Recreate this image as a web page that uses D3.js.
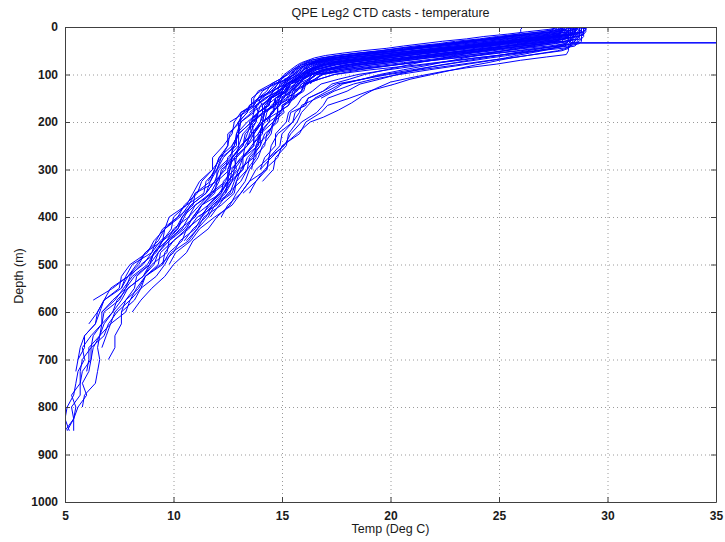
<!DOCTYPE html>
<html>
<head>
<meta charset="utf-8">
<script src="https://d3js.org/d3.v7.min.js"></script>
<style>
  body { margin: 0; background: #fff; }
  svg { display: block; font-family: "Liberation Sans", Arial, Helvetica, sans-serif; }
  .grid line { stroke: #9a9a9a; stroke-dasharray: 1,3; }
  .grid .domain { display: none; }
  .axis text { font-size: 12px; font-weight: bold; fill: #1a1a1a; }
  .axis line, .axis path { stroke: #404040; }
  .cast { fill: none; stroke: #0000ff; stroke-width: 1; }
</style>
</head>
<body>
<svg id="svg" width="725" height="542"></svg>
<script>
// tick labels
var xTicks = [5, 10, 15, 20, 25, 30, 35];
var yTicks = [0, 100, 200, 300, 400, 500, 600, 700, 800, 900, 1000];

// depth bins (m) shared by the casts, temperatures (deg C)
var depthLevels = [0, 5, 10, 15, 20, 25, 30, 35, 40, 45, 50, 55, 60, 65, 70, 75, 80, 90,
  100, 110, 120, 135, 150, 165, 180, 200, 225, 250, 275, 300, 325, 350, 375, 400, 425,
  450, 475, 500, 525, 550, 575, 600, 625, 650, 675, 700, 725, 750, 775, 800, 825, 850];

var castA1 = [28.5,28.4,28.4,28.3,28.1,27.2,26.1,25.2,24.1,23.2,22.3,21.2,20.3,19.4,18.4,17.6,17.0,16.4,16.0,15.7,15.2,15.0,14.9,14.5,14.3,14.2,13.9,13.4,12.8,12.9,12.5,12.2,11.3,10.9,10.5,9.8,9.3,9.1,8.6,7.9,7.6,7.2,6.7,6.6,6.3,6.2,5.8,5.7,5.7,5.3,5.4,5.1];
var castA2 = [28.9,28.8,28.8,28.2,27.3,26.2,25.4,24.3,23.4,22.3,21.2,20.1,19.0,18.1,17.2,16.6,16.2,15.9,15.6,15.1,15.2,14.5,13.9,14.1,13.6,13.1,13.0,12.8,12.3,12.0,12.0,11.0,10.9,10.2,9.6,9.5,9.2,8.5,8.0,7.8,7.2,6.7,6.7,6.2,5.8,5.9,5.6,5.5,5.4,5.1,5.0,5.2];
var castA3 = [28.3,28.3,28.2,28.2,28.1,28.0,27.5,26.6,25.4,24.5,23.6,22.5,21.7,20.8,19.7,18.8,18.0,17.0,16.4,16.2,15.7,15.4,14.9,14.8,14.8,14.1,14.0,13.9,13.2,12.8,12.7,12.3,12.0,11.1,10.7,10.0,9.6,9.5,8.7,8.3,8.0,7.4,7.0,6.8,6.2,6.2,6.1,5.8,6.0,5.6,5.4,5.4];
var castA4 = [28.0,27.9,27.9,27.8,27.4,26.3,25.4,24.2,23.5,22.4,21.5,20.6,19.7,18.6,17.8,17.1,16.7,16.2,15.8,15.3,15.2,14.8,14.5,14.0,13.9,13.6,13.0,13.0,12.9,12.2,12.1,11.8,11.0,10.4,10.2,9.7,9.1,8.9,8.2,7.8,7.5,6.8,6.7,6.3,6.2,5.8,5.7,5.7,5.3,5.5,5.4,5.0];
var castB1 = [28.6,28.6,28.5,28.5,28.5,28.4,28.3,27.6,26.7,25.6,24.7,23.8,22.9,21.8,20.9,20.0,19.1,17.6,16.8,16.6,16.0,15.9,15.5,15.0,15.1,14.6,14.4,13.8,13.8,13.4,12.9,12.8,12.2,11.4,11.1,10.7,9.9,9.6,9.2,8.5,8.2,7.6,7.6,7.3,7.3,7.0];
var castB2 = [28.2,28.1,27.8,27.0,26.0,25.1,24.0,23.1,22.0,21.0,20.0,19.0,18.1,17.2,16.6,16.2,16.0,15.7,15.4,15.2,14.6,14.1,13.9,13.7,13.2,13.0,12.6,12.5,12.2,11.8,11.3,11.1,10.5,10.2,9.5,9.2,9.0,8.1,7.8,7.6,6.8,6.6,6.4,5.9,5.9,5.6,5.5];
var castB3 = [27.7,27.6,27.6,27.5,27.5,27.1,26.2,25.3,24.5,23.4,22.6,21.7,20.8,20.0,19.0,18.1,17.4,16.6,16.2,15.8,15.6,15.1,14.9,14.7,14.1,14.0,13.7,13.1,12.7,12.6,12.4,11.7,11.2,10.7,10.0,9.7,9.1,8.9,8.6,7.9,7.4,7.2,6.8,6.6,6.1,6.1,6.0];
var castB4 = [29.0,29.0,28.9,28.9,28.6,27.6,26.4,25.5,24.4,23.3,22.2,21.1,20.1,19.2,18.2,17.4,16.8,16.2,15.9,15.6,15.4,15.1,14.5,14.2,14.2,13.6,13.4,13.2,12.7,12.3,12.0,11.7,11.0,10.7,10.4,9.7,9.3,8.9,8.3,8.2,7.8,7.3,7.1,6.6,6.5,6.6,6.5,6.4,5.9,5.8];
var castB5 = [28.1,27.8,26.9,25.9,24.9,24.1,23.0,22.2,21.1,20.3,19.5,18.4,17.5,16.8,16.4,16.1,15.9,15.5,15.2,15.0,14.7,14.0,13.6,13.6,13.1,12.8,12.7,12.3,11.8,11.8,11.2,10.9,10.6,9.8,9.6,9.1,8.8,8.0,7.6,7.5,6.8,6.5,6.4,5.9,5.7,5.6];
var castB6 = [28.5,28.5,28.5,28.4,28.4,28.3,28.3,28.2,27.8,26.9,26.0,25.0,24.1,23.1,22.0,21.0,20.1,18.0,16.6,16.2,16.1,15.5,15.4,14.8,14.8,14.6,14.0,13.8,13.7,13.0,12.8,12.6,11.8,11.3,11.0,10.3,10.0,9.4,8.7,8.5,8.0,7.8,7.1,6.9,6.7];
var castC1 = [28.8,28.7,28.7,28.5,27.5,26.6,25.7,24.6,23.8,22.6,21.7,20.5,19.6,18.6,17.7,16.9,16.5,16.0,15.7,15.4,14.9,14.8,14.2,13.8,13.9,13.4,12.9,12.8,12.6,12.0,11.7,11.5,10.8,10.4,10.1,9.4,9.0,8.6,7.9,7.2,6.3];
var castC2 = [27.9,27.8,27.8,27.7,27.7,27.6,27.4,26.5,25.5,24.7,23.7,22.8,22.0,21.0,20.2,19.3,18.4,17.1,16.3,15.9,15.8,15.4,15.2,14.7,14.6,14.1,13.7,13.7,13.1,12.7,12.6,12.1,11.6,10.9,10.6,10.0,9.4,9.3,8.7,8.4,7.8,7.6];
var castC3 = [28.4,28.3,28.2,27.3,26.4,25.3,24.5,23.4,22.5,21.4,20.4,19.4,18.4,17.5,16.9,16.4,16.1,15.8,15.5,15.3,14.7,14.4,14.1,13.5,13.4,13.0,13.0,12.7,12.1,11.9,11.7,11.0,10.7,10.3,9.6,9.3,8.7,8.4,7.9,7.6];
var castC4 = [29.0,28.9,28.9,28.8,28.7,27.9,26.8,25.8,24.8,23.9,22.8,21.9,20.8,19.8,18.9,18.0,17.3,16.5,16.1,15.7,15.6,15.3,14.7,14.6,14.1,13.6,13.7,13.4,12.8,12.5,12.5,11.8,11.3,11.0,10.3,9.8,9.7,9.0,8.6];
var castC5 = [28.3,28.2,28.2,28.1,27.9,27.0,25.9,25.1,24.0,23.1,22.1,21.2,20.2,19.3,18.3,17.5,16.9,16.3,16.0,15.7,15.4,14.8,14.5,14.1,14.1,13.7,13.2,13.0,12.5,12.4,11.9,11.5,10.8,10.5,10.2,9.5,9.1,8.8,8.1,7.7,7.3,6.7];
var castC6 = [28.6,28.6,28.5,28.5,28.4,28.3,28.2,28.0,27.6,27.0,26.3,25.6,25.0,24.3,23.6,23.0,22.3,21.2,20.3,19.5,18.6,18.0,17.1,16.9,16.6,15.9,15.4,15.1,14.4,14.3,13.5,13.1,12.7,11.9,11.2,10.8,10.1,9.8];
var castC7 = [28.6,28.6,28.5,27.9,26.9,25.9,24.9,24.0,22.9,22.0,20.9,19.8,18.9,17.9,17.1,16.5,16.1,15.6,15.3,14.9,14.8,14.5,13.9,13.7,13.7,13.1,12.9,12.9,12.2,12.0,11.5,11.4,10.6,10.0,9.9,9.5,8.7,8.3,7.9,7.1,6.8,6.5,6.1];
var castC8 = [28.8,28.8,28.8,28.7,28.7,28.7,28.6,28.6,28.5,27.9,26.8,25.9,24.9,23.9,23.0,22.1,21.2,19.1,17.4,16.7,16.1,16.0,15.5,15.0,15.0,14.4,14.0,14.0,13.6,13.1,12.9,12.7,11.9,11.6,11.1,10.6];
var castD1 = [28.5,28.4,28.4,28.4,28.3,28.3,28.2,28.1,27.3,26.2,25.3,24.4,23.3,22.4,21.5,20.6,19.6,17.9,16.9,16.5,16.0,15.9,15.6,15.1,14.9,14.8,14.2,14.0,13.5,13.4,13.1,12.5,12.1,11.7];
var castD2 = [27.6,27.5,27.0,26.1,25.4,24.4,23.6,22.7,21.8,20.9,20.1,19.0,18.3,17.3,16.7,16.4,16.1,15.8,15.6,15.2,15.1,14.6,14.3,13.8,13.7,13.6,13.0,12.7,12.7,12.1,11.9,11.5];
var castD3 = [29.0,29.0,29.0,28.9,28.9,28.8,28.0,27.1,26.0,25.1,24.1,23.1,22.2,21.1,20.1,19.2,18.2,16.9,16.2,16.0,15.4,15.2,14.7,14.3,14.2,14.0,13.6,13.3,13.2,12.6,12.5,12.1,11.6];
var castD4 = [28.4,28.4,28.3,28.3,28.2,28.0,27.6,27.1,26.5,25.8,25.2,24.6,24.0,23.4,22.9,22.3,21.8,20.6,19.5,18.7,17.8,17.3,16.6,15.9,15.8,15.5,14.8,14.5,14.4,13.8,13.5,13.1,12.5,12.2];
var castD5 = [27.9,27.3,26.3,25.4,24.3,23.5,22.4,21.5,20.6,19.8,18.7,17.8,17.0,16.5,16.2,15.9,15.7,15.4,15.1,14.9,14.5,13.9,13.7,13.7,13.1,13.1,12.5,12.5,12.1,11.9,11.6];
var castD6 = [28.2,28.2,28.1,28.1,28.0,28.0,27.9,27.0,26.0,25.1,24.0,23.1,22.1,21.2,20.4,19.4,18.5,17.2,16.4,15.9,15.8,15.4,15.3,14.8,14.6,14.1,14.1,13.6,13.2,13.2,12.6,12.3,11.7,11.2];
var castD7 = [28.6,28.5,28.5,28.4,27.8,26.8,25.9,24.8,23.8,22.9,21.9,20.9,19.8,18.9,18.0,17.1,16.6,16.2,15.9,15.7,15.2,14.9,14.4,14.4,13.9,13.5,13.6,13.1,12.7,12.5];
var castD8 = [28.7,28.7,28.7,28.6,28.6,28.5,28.5,28.4,28.3,28.1,27.7,27.0,26.3,25.6,25.0,24.5,23.9,22.9,21.9,20.9,20.2,19.0,18.1,17.1,16.8,16.1,15.8,15.0,14.8,14.2,13.8,13.2];
var castE1 = [28.1,28.0,27.3,26.4,25.3,24.5,23.4,22.5,21.5,20.4,19.6,18.6,17.6,17.0,16.6,16.4,16.2,16.0,15.8,15.5,15.3,14.9,14.2,13.8,13.3,12.6];
var castE2 = [28.7,28.7,28.6,28.6,28.5,28.1,27.0,26.2,25.2,24.2,23.3,22.3,21.3,20.4,19.4,18.6,17.9,17.0,16.5,16.3,15.9,15.7,15.2];
var castE3 = [26.1,26.0,26.0,25.9,25.2,24.4,23.5,22.7,21.8,21.0,20.2,19.1,18.2,17.4,16.7,16.2,15.9,15.6,15.4,15.2,14.8,14.6,14.0,13.9,13.5];
var castE4 = [28.5,28.5,28.4,28.4,28.2,27.4,26.5,25.4,24.6,23.5,22.7,21.6,20.8,19.9,18.9,18.0,17.3,16.5,16.0,15.8,15.4,15.2,14.7,14.7,14.2,14.1,13.6];
var castE5 = [28.9,28.9,28.9,28.8,28.8,28.8,28.7,28.5,27.7,26.7,25.8,24.8,23.9,22.9,22.0,21.1,20.2,18.4,16.8,16.5,16.3];
var castE6 = [28.0,28.0,27.9,27.7,27.4,27.0,26.5,26.0,25.4,24.8,24.2,23.6,23.0,22.4,21.9,21.3,20.8,19.8,18.8,18.1,17.3,16.9,16.2,16.1,15.4,15.3];
var castE7 = [27.8,27.8,27.7,27.6,27.0,26.1,25.3,24.3,23.5,22.5,21.7,20.8,20.0,19.1,18.2,17.4,16.8,16.2,15.9,15.6,15.3,15.1,14.5,14.4];
var castE8 = [28.3,28.3,28.3,28.2,28.2,28.1,27.5,26.4,25.6,24.5,23.5,22.6,21.6,20.6,19.7,18.7,17.8,16.8,16.3,16.0,15.8,15.5];
var castE9 = [28.7,28.5,27.6,26.6,25.5,24.6,23.5,22.5,21.6,20.6,19.6,18.6,17.7,16.9,16.3,16.0,15.8,15.5,15.2,14.9,14.5,14.3,13.9,13.5,13.4,13.0];
var castE10 = [28.8,28.8,28.7,28.7,28.6,28.6,28.5,28.3,28.0,27.5,27.0,26.4,25.8,25.3,24.7,24.0,23.3,21.8,20.4,19.2,18.3,17.4,16.8];
var castE11 = [27.9,27.9,27.9,27.8,27.8,27.8,27.7,27.2,26.2,25.3,24.5,23.5,22.6,21.7,20.8,20.0,19.1,17.6,16.6,16.3,16.2,15.6,15.5,15.3,14.8];
var castE12 = [29.0,28.9,28.9,28.2,27.3,26.2,25.3,24.2,23.3,22.2,21.2,20.2,19.2,18.2,17.4,16.8,16.5,16.3,16.2,15.9];
var castE13 = [28.1,28.1,28.0,28.0,27.8,26.8,25.9,24.9,24.0,23.0,22.0,21.1,20.1,19.2,18.2,17.4,16.9,16.4,16.1,15.8,15.7,15.2,15.1,14.6,14.6,14.1,14.0,13.6];
var castE14 = [28.5,28.4,28.2,27.3,26.3,25.3,24.4,23.4,22.4,21.4,20.4,19.5,18.5,17.6,16.9,16.4,16.1,15.8,15.5,15.3,15.0,14.6,14.4,14.1];
var castF1 = [28.4,28.4,28.4,28.3,28.3,28.2,28.1,27.5,26.8,26.0,25.2,24.3,23.5,22.6,21.9,21.0,20.2,18.6,17.4,16.7,16.1,15.9,15.4,15.3,14.8,14.7,14.3,14.2,13.7,13.6];
var castF2 = [28.7,28.7,28.7,28.6,28.5,28.0,27.1,26.1,25.3,24.3,23.4,22.4,21.6,20.6,19.7,18.8,18.0,16.9,16.4,16.0,15.7,15.5,15.0,14.9,14.5,14.4,13.9,13.9,13.4,13.2,12.7,12.4];
var castF3 = [27.5,27.5,27.4,27.3,26.9,26.1,25.3,24.5,23.7,22.8,22.0,21.1,20.3,19.5,18.6,17.8,17.1,16.3,15.9,15.6,15.2,15.0,14.5,14.4,13.9,13.8,13.5,13.4,12.9,12.8,12.3,12.2,11.6,11.3,10.6,10.4,9.8,9.5];
var castF4 = [28.9,28.9,28.9,28.9,28.8,28.8,28.8,28.7,28.2,27.4,26.6,25.7,24.9,24.0,23.2,22.3,21.5,19.9,18.5,17.6,16.8,16.4,15.9,15.7,15.3,15.2,14.7,14.7,14.2,14.0];
var castF5 = [28.2,28.1,27.6,26.7,25.7,24.8,23.9,22.9,22.0,21.1,20.2,19.3,18.3,17.5,16.9,16.6,16.3,16.0,15.8,15.5,15.2,15.0,14.5,14.4,13.9,13.7];
var castF6 = [28.5,28.5,28.5,28.5,28.4,28.4,28.4,28.3,28.3,28.2,27.9,27.1,26.3,25.5,24.6,23.8,23.0,21.4,19.9,18.7,17.5,16.9,16.2,16.0,15.6,15.5,15.0,14.9,14.4,14.3,13.8,13.5];
var castF7 = [28.3,28.2,28.2,27.6,26.7,25.6,24.8,23.8,22.9,21.9,21.1,20.0,19.1,18.2,17.3,16.7,16.4,16.1,15.9,15.6,15.3,15.1,14.7,14.6,14.2,14.1,13.7,13.7,13.2,13.0,12.5,12.4,11.8,11.5,10.9,10.5];
var castF8 = [28.8,28.8,28.8,28.7,28.7,28.6,28.0,27.0,26.1,25.2,24.3,23.3,22.4,21.5,20.5,19.6,18.7,17.3,16.6,16.3,15.9,15.6,15.4,15.1,14.9,14.6,14.5,14.1,13.9,13.5,13.3,12.9,12.6,12.0,11.6,10.9,10.6,10.0,9.6,9.0,8.5,8.1];
var castF9 = [27.9,27.9,27.8,27.8,27.6,26.8,26.0,25.1,24.2,23.4,22.5,21.6,20.7,19.9,19.0,18.2,17.5,16.6,16.2,15.9,15.6,15.4,15.0,14.9,14.5,14.3];
var castF10 = [29.0,29.0,28.9,28.6,27.7,26.8,25.8,24.9,23.9,23.0,22.0,21.0,20.1,19.1,18.2,17.4,16.9,16.3,16.0,15.7,15.4,15.2,14.8,14.7];
var castF11 = [28.3,28.3,28.3,28.3,28.2,28.2,28.2,28.1,27.9,27.4,26.8,26.1,25.4,24.6,23.9,23.1,22.4,21.0,19.7,18.7,17.7,17.1,16.5,16.2,15.9,15.7,15.3,15.2,14.7,14.6,14.1];
var castF12 = [27.8,27.7,27.4,26.6,25.6,24.8,23.8,23.0,22.1,21.2,20.3,19.4,18.4,17.6,16.9,16.5,16.3,16.0,15.7,15.4,15.1,14.9,14.4,14.3,13.9,13.8,13.3,13.2,12.7,12.6,12.0,11.9,11.3,10.9];

// one cast logged on its own depths, with a bad sample near 33 m
var glitchDepth = [0,10,20,30,33,33,34,40,50,58,63,70,78,86,93,99,108,116,130,145,160,175,190,200,220,244,262,280,300];
var glitchTemp = [28.6,28.5,28.4,28.3,28.3,45,28.3,28.2,28.2,28.1,27.2,26.0,24.9,23.5,22.5,21.8,20.8,20.0,19.3,18.7,18.2,17.6,16.9,16.3,15.8,15.2,14.8,14.4,14.0];

var levelCasts = [castA1, castA2, castA3, castA4, castB1, castB2, castB3, castB4, castB5, castB6,
  castC1, castC2, castC3, castC4, castC5, castC6, castC7, castC8,
  castD1, castD2, castD3, castD4, castD5, castD6, castD7, castD8,
  castE1, castE2, castE3, castE4, castE5, castE6, castE7, castE8, castE9, castE10,
  castE11, castE12, castE13, castE14,
  castF1, castF2, castF3, castF4, castF5, castF6, castF7, castF8, castF9, castF10,
  castF11, castF12];

function buildCasts() {
  var out = levelCasts.map(function (temps) {
    return temps.map(function (t, i) {
      return {temp: t, depth: depthLevels[i]};
    });
  });
  out.push(glitchTemp.map(function (t, i) {
    return {temp: t, depth: glitchDepth[i]};
  }));
  return out;
}

function drawProfiles(casts) {
  var svg = d3.select("#svg"),
    margin = {top: 27, right: 9, bottom: 40, left: 65},
    width = +svg.attr("width") - margin.left - margin.right,
    height = +svg.attr("height") - margin.top - margin.bottom,
    g = svg
      .append("g")
      .attr("transform", "translate(" + margin.left + "," + margin.top + ")");

  var x = d3.scaleLinear().domain([5, 35]).range([0, width]),
    y = d3.scaleLinear().domain([0, 1000]).range([0, height]);

  // dotted grid
  g.append("g")
    .attr("class", "grid")
    .attr("transform", "translate(0," + height + ")")
    .call(d3.axisBottom(x).tickValues(xTicks.slice(1, -1)).tickSize(-height).tickFormat(""));
  g.append("g")
    .attr("class", "grid")
    .call(d3.axisLeft(y).tickValues(yTicks.slice(1, -1)).tickSize(-width).tickFormat(""));

  g.append("clipPath")
    .attr("id", "plotclip")
    .append("rect")
    .attr("width", width)
    .attr("height", height);

  var line = d3.line()
    .x(function (d) { return x(d.temp); })
    .y(function (d) { return y(d.depth); });

  g.append("g")
    .attr("clip-path", "url(#plotclip)")
    .selectAll(".cast")
    .data(casts)
    .enter()
    .append("path")
    .attr("class", "cast")
    .attr("d", line);

  // box with inward ticks on all four sides
  g.append("g")
    .attr("class", "axis axis--x")
    .attr("transform", "translate(0," + height + ")")
    .call(d3.axisBottom(x).tickValues(xTicks).tickSizeInner(-5).tickSizeOuter(0).tickPadding(9).tickFormat(d3.format("d")));
  g.append("g")
    .attr("class", "axis axis--y")
    .call(d3.axisLeft(y).tickValues(yTicks).tickSizeInner(-5).tickSizeOuter(0).tickPadding(7).tickFormat(d3.format("d")));
  g.append("g")
    .attr("class", "axis")
    .call(d3.axisTop(x).tickValues(xTicks).tickSizeInner(-5).tickSizeOuter(0).tickFormat(""));
  g.append("g")
    .attr("class", "axis")
    .attr("transform", "translate(" + width + ",0)")
    .call(d3.axisRight(y).tickValues(yTicks).tickSizeInner(-5).tickSizeOuter(0).tickFormat(""));

  svg.append("text")
    .attr("x", margin.left + width / 2)
    .attr("y", 17)
    .attr("text-anchor", "middle")
    .attr("font-size", "12.5px")
    .attr("fill", "#1a1a1a")
    .text("QPE Leg2 CTD casts - temperature");

  svg.append("text")
    .attr("x", margin.left + width / 2)
    .attr("y", 533)
    .attr("text-anchor", "middle")
    .attr("font-size", "12.5px")
    .attr("fill", "#1a1a1a")
    .text("Temp (Deg C)");

  svg.append("text")
    .attr("transform", "translate(23,276) rotate(-90)")
    .attr("text-anchor", "middle")
    .attr("font-size", "12.5px")
    .attr("fill", "#1a1a1a")
    .text("Depth (m)");
}

drawProfiles(buildCasts());
</script>
</body>
</html>
